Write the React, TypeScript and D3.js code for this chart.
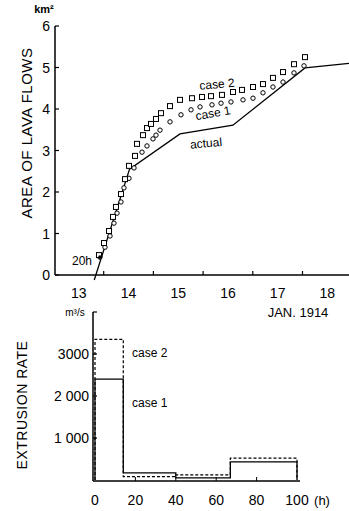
import React from 'react';
import * as d3 from 'd3';

// upper panel: area of lava flows (km2) against date, Jan 1914
const dayLabels = ['13', '14', '15', '16', '17', '18'];
const areaTicks = [0, 1, 2, 3, 4, 5, 6];

const actual: [number, number][] = [
  [13.81, -0.12], [14.52, 2.55], [15.535, 3.4], [16.6, 3.61], [18.05, 4.99], [18.94, 5.1],
];

// case 1 (circles)
const case1: [number, number][] = [
  [13.925, 0.43], [14.026, 0.67], [14.127, 0.94], [14.207, 1.25], [14.268, 1.49],
  [14.348, 1.76], [14.408, 2.1], [14.509, 2.33], [14.61, 2.58], [14.771, 2.96],
  [14.871, 3.11], [14.992, 3.28], [15.052, 3.37], [15.133, 3.49], [15.334, 3.69],
  [15.555, 3.86], [15.757, 3.98], [15.938, 4.05], [16.179, 4.1], [16.36, 4.14],
  [16.561, 4.17], [16.803, 4.22], [17.004, 4.26], [17.205, 4.39], [17.406, 4.53],
  [17.608, 4.65], [17.829, 4.87], [18.03, 5.04],
];

// case 2 (squares)
const case2: [number, number][] = [
  [13.905, 0.48], [14.006, 0.77], [14.107, 1.06], [14.187, 1.4], [14.247, 1.64],
  [14.348, 1.95], [14.429, 2.31], [14.509, 2.63], [14.63, 2.87], [14.67, 3.16],
  [14.791, 3.37], [14.871, 3.54], [14.952, 3.64], [15.052, 3.76], [15.153, 3.9],
  [15.334, 4.07], [15.535, 4.22], [15.777, 4.26], [15.978, 4.29], [16.159, 4.31],
  [16.38, 4.34], [16.602, 4.41], [16.783, 4.46], [17.004, 4.53], [17.205, 4.6],
  [17.406, 4.75], [17.608, 4.89], [17.829, 5.08], [18.05, 5.25],
];

// lower panel: extrusion rate (m3/s) in hours since 20h Jan 13
const stepHours = [0, 14, 40, 67, 100];
const rateCase1 = [2400, 170, 50, 430];
const rateCase2 = [3350, 80, 120, 520];
const rateTicks = [1000, 2000, 3000];
const rateTickLabels = ['1 000', '2 000', '3000'];
const hourTicks = [0, 20, 40, 60, 80, 100];

const FONT = '"Liberation Sans", Arial, sans-serif';

function stepPoints(rates: number[]): [number, number][] {
  const pts: [number, number][] = [[stepHours[0], 0]];
  rates.forEach((r, i) => {
    pts.push([stepHours[i], r]);
    pts.push([stepHours[i + 1], r]);
  });
  pts.push([stepHours[stepHours.length - 1], 0]);
  return pts;
}

export default function App() {
  const W = 349, H = 511;

  const x = d3.scaleLinear().domain([13, 19]).range([54, 54 + 6 * 49.7]);
  const y = d3.scaleLinear().domain([0, 6]).range([275, 26]);

  const hx = d3.scaleLinear().domain([0, 100]).range([95, 297]);
  const ry = d3.scaleLinear().domain([0, 4000]).range([480, 312]);

  const line = d3.line<[number, number]>().x(d => x(d[0])).y(d => y(d[1]));
  const stepLine = d3.line<[number, number]>().x(d => Math.max(93, hx(d[0]))).y(d => ry(d[1]));

  return (
    <svg width={W} height={H} style={{ position: 'absolute', left: 0, top: 0, background: '#fff' }}
      fontFamily={FONT}>
      <rect width={W} height={H} fill="#fff" />

      {/* upper panel axes */}
      <text x={44} y={13} fontSize={11} fontWeight="bold" textAnchor="middle">km²</text>
      <line x1={55} x2={55} y1={y(6)} y2={275} stroke="#000" strokeWidth={1.5} />
      <line x1={55} x2={349} y1={275} y2={275} stroke="#000" strokeWidth={1.5} />
      {areaTicks.map(t => (
        <g key={t}>
          <line x1={55} x2={59} y1={y(t)} y2={y(t)} stroke="#000" strokeWidth={1.2} />
          <text x={50} y={y(t)} dy="0.36em" fontSize={14} textAnchor="end">{t}</text>
        </g>
      ))}
      {dayLabels.map((lab, i) => (
        <g key={lab}>
          {i > 0 && <line x1={x(13 + i)} x2={x(13 + i)} y1={275} y2={271} stroke="#000" strokeWidth={1.2} />}
          <text x={x(13.5 + i)} y={293} dy="0.36em" fontSize={14} textAnchor="middle">{lab}</text>
        </g>
      ))}
      <text x={298} y={312} dy="0.36em" fontSize={13} textAnchor="middle">JAN. 1914</text>
      <text transform="translate(27,133) rotate(-90)" fontSize={15} textAnchor="middle" dy="0.36em"
        letterSpacing={0.5}>AREA  OF  LAVA  FLOWS</text>

      <path d={line(actual) || ''} fill="none" stroke="#000" strokeWidth={1.3} />
      {case1.map((d, i) => (
        <circle key={'c' + i} cx={x(d[0])} cy={y(d[1])} r={2.2} fill="#fff" stroke="#000" strokeWidth={1} />
      ))}
      {case2.map((d, i) => (
        <rect key={'s' + i} x={x(d[0]) - 2.5} y={y(d[1]) - 2.5} width={5} height={5}
          fill="#fff" stroke="#000" strokeWidth={1} />
      ))}
      <circle cx={x(13.925)} cy={y(0.43)} r={1.8} fill="#000" />

      <text x={217} y={84} fontSize={12} textAnchor="middle" transform="rotate(-5,217,84)" dy="0.36em">case 2</text>
      <text x={213} y={113} fontSize={12} textAnchor="middle" transform="rotate(-10,213,113)" dy="0.36em">case 1</text>
      <text x={206} y={143} fontSize={12} textAnchor="middle" transform="rotate(-5,206,143)" dy="0.36em">actual</text>
      <text x={82} y={261} fontSize={12} textAnchor="middle" dy="0.36em">20h</text>

      {/* lower panel */}
      <path d={stepLine(stepPoints(rateCase2)) || ''} fill="none" stroke="#000" strokeWidth={1.2}
        strokeDasharray="3,2" />
      <path d={stepLine(stepPoints(rateCase1)) || ''} fill="none" stroke="#000" strokeWidth={1.3} />
      <line x1={93} x2={93} y1={ry(4000)} y2={481} stroke="#000" strokeWidth={1.5} />
      <line x1={93} x2={300} y1={481} y2={481} stroke="#000" strokeWidth={1.5} />
      <line x1={93} x2={97} y1={ry(4000)} y2={ry(4000)} stroke="#000" strokeWidth={1.2} />
      {rateTicks.map((t, i) => (
        <g key={t}>
          <line x1={93} x2={97} y1={ry(t)} y2={ry(t)} stroke="#000" strokeWidth={1.2} />
          <text x={89} y={ry(t)} dy="0.36em" fontSize={14} textAnchor="end">{rateTickLabels[i]}</text>
        </g>
      ))}
      {hourTicks.map(t => (
        <g key={t}>
          {t > 0 && t < 100 && <line x1={hx(t)} x2={hx(t)} y1={481} y2={477} stroke="#000" strokeWidth={1} />}
          <text x={hx(t)} y={500} dy="0.36em" fontSize={14} textAnchor="middle">{t}</text>
        </g>
      ))}
      <text x={322} y={500} dy="0.36em" fontSize={13} textAnchor="middle">(h)</text>
      <text x={75} y={312} dy="0.36em" fontSize={10} textAnchor="middle">m³/s</text>
      <text transform="translate(22,405) rotate(-90)" fontSize={14} textAnchor="middle" dy="0.36em"
        letterSpacing={0.5}>EXTRUSION  RATE</text>
      <text x={132} y={353} dy="0.36em" fontSize={12}>case 2</text>
      <text x={132} y={403} dy="0.36em" fontSize={12}>case 1</text>
    </svg>
  );
}
